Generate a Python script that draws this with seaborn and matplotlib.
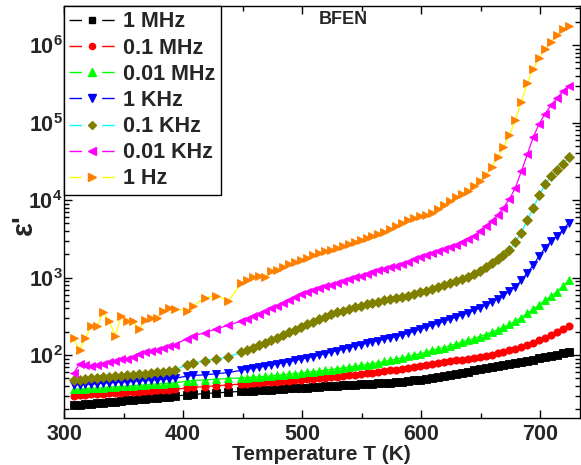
import math
import matplotlib
matplotlib.use("Agg")
import matplotlib.pyplot as plt
from matplotlib.lines import Line2D
from matplotlib.ticker import FuncFormatter, LogLocator, MultipleLocator, NullFormatter
import seaborn as sns
import pandas as pd

# ---------------- data ----------------
temperature = [308, 313, 318, 323, 328, 333, 338, 343, 348, 353, 358, 363, 368, 373, 378, 383, 388, 393,
               403, 408, 418, 428, 438,
               449, 454, 459, 464, 469, 474, 479, 484, 489, 494, 499, 504, 509, 514, 519, 524, 529, 534,
               539, 544, 549, 554, 559, 564, 569, 574, 579, 584, 589, 594, 599, 604, 609, 614, 619, 624,
               629, 634, 639, 644, 649, 654, 659, 664, 669, 674, 679, 684, 689, 694, 699, 704, 709, 714,
               719, 724]

eps_1MHz = [22.5, 22.9, 23.2, 23.6, 23.9, 24.3, 24.7, 25.1, 25.5, 25.9, 26.3, 26.7, 27.1, 27.6, 28.0, 28.5, 29.0, 29.5,
            30.5, 31.0, 31.8, 32.5, 33.2,
            34.0, 34.4, 34.8, 35.2, 35.5, 35.9, 36.2, 36.6, 37.0, 37.3, 37.7, 38.1, 38.5, 38.9, 39.3, 39.7, 40.1, 40.5,
            40.9, 41.3, 41.8, 42.2, 42.7, 43.2, 43.7, 44.2, 44.8, 45.5, 46.2, 47.0, 47.8, 49.0, 50.5, 52.0, 53.8, 55.5,
            57.3, 59.2, 61.2, 63.3, 65.5, 67.5, 69.5, 71.8, 74.0, 76.5, 79.0, 81.5, 84.0, 87.5, 90.5, 93.5, 97.0, 100.5,
            105.0, 110.0]

eps_01MHz = [30.0, 30.3, 30.6, 31.0, 31.3, 31.7, 32.0, 32.4, 32.7, 33.1, 33.4, 33.8, 34.2, 34.6, 35.0, 35.4, 35.8, 36.2,
             37.5, 38.2, 39.2, 40.2, 41.2,
             42.3, 42.8, 43.3, 43.8, 44.3, 44.8, 45.3, 45.9, 46.5, 47.1, 47.7, 48.4, 49.1, 49.9, 50.7, 51.5, 52.5, 53.5,
             54.5, 55.6, 56.8, 58.0, 59.3, 60.6, 62.0, 63.4, 64.9, 66.5, 68.2, 70.0, 72.0, 74.0, 76.2, 78.5, 80.8, 83.2,
             85.5, 87.5, 89.5, 91.8, 94.2, 97.0, 100.5, 105.0, 110.0, 116.0, 121.0, 127.0, 134.0, 145.0, 155.0, 167.0,
             182.0, 198.0, 217.0, 240.0]

eps_001MHz = [36.0, 36.4, 36.8, 37.2, 37.6, 38.0, 38.4, 38.9, 39.3, 39.8, 40.3, 40.8, 41.3, 41.8, 42.3, 42.8, 43.3, 43.9,
              46.0, 46.8, 47.8, 48.8, 49.8,
              50.7, 51.2, 51.7, 52.3, 53.0, 53.8, 54.7, 55.6, 56.6, 57.6, 58.7, 59.8, 61.0, 62.2, 63.5, 64.9, 66.4, 68.0,
              69.7, 71.5, 73.4, 75.4, 77.6, 80.0, 82.6, 85.4, 88.4, 92.5, 96.0, 99.5, 104.0, 109.0, 115.0, 120.0, 125.0,
              131.0, 139.0, 147.0, 155.0, 163.0, 173.0, 184.0, 197.0, 211.0, 228.0, 249.0, 274.0, 305.0, 345.0, 388.0,
              445.0, 510.0, 575.0, 660.0, 775.0, 925.0]

eps_1KHz = [41.0, 41.4, 41.8, 42.3, 42.8, 43.3, 43.8, 44.3, 44.8, 45.3, 45.8, 46.4, 47.0, 47.6, 48.2, 48.8, 49.4, 50.0,
            53.5, 54.5, 55.5, 57.5, 59.5,
            63.5, 65.5, 67.5, 69.5, 71.8, 74.2, 76.8, 79.5, 82.2, 85.2, 88.5, 92.0, 95.5, 99.5, 104.0, 109.0, 114.0,
            119.0, 124.0, 130.0, 136.0, 142.0, 148.0, 154.0, 160.0, 166.0, 173.0, 181.0, 190.0, 204.0, 215.0, 228.0,
            242.0, 256.0, 272.0, 290.0, 309.0, 328.0, 350.0, 376.0, 405.0, 440.0, 480.0, 530.0, 590.0, 670.0, 760.0,
            920.0, 1150.0, 1450.0, 1900.0, 2420.0, 2950.0, 3450.0, 4150.0, 5100.0]

eps_01KHz = [47.5, 48.3, 49.0, 49.8, 50.6, 51.4, 52.2, 53.0, 53.9, 54.8, 55.7, 56.7, 57.7, 58.8, 59.9, 61.1, 62.4, 63.8,
             75.0, 78.0, 85.0, 89.0, 95.0,
             108.0, 116.0, 124.0, 134.0, 145.0, 156.0, 168.0, 181.0, 196.0, 211.0, 228.0, 248.0, 268.0, 290.0, 312.0,
             335.0, 355.0, 375.0, 395.0, 415.0, 435.0, 452.0, 470.0, 488.0, 506.0, 524.0, 540.0, 555.0, 578.0, 612.0,
             645.0, 680.0, 720.0, 755.0, 795.0, 845.0, 900.0, 955.0, 1020.0, 1100.0, 1210.0, 1370.0, 1530.0, 1720.0,
             1950.0, 2280.0, 2870.0, 3800.0, 5500.0, 7900.0, 11500.0, 16000.0, 20500.0, 24500.0, 29500.0, 36000.0]

eps_001KHz = [58.0, 77.0, 74.0, 72.0, 74.0, 77.0, 81.0, 84.0, 88.0, 90.0, 94.0, 102.0, 108.0, 112.0, 116.0, 124.0, 130.0, 136.0,
              162.0, 175.0, 194.0, 218.0, 242.0,
              275.0, 295.0, 318.0, 343.0, 370.0, 400.0, 432.0, 468.0, 508.0, 560.0, 605.0, 650.0, 690.0, 730.0, 770.0,
              810.0, 860.0, 910.0, 960.0, 1010.0, 1060.0, 1110.0, 1170.0, 1240.0, 1300.0, 1370.0, 1430.0, 1500.0,
              1590.0, 1720.0, 1830.0, 1940.0, 2050.0, 2180.0, 2320.0, 2480.0, 2640.0, 2860.0, 3100.0, 3450.0, 4000.0,
              4650.0, 5400.0, 6450.0, 8000.0, 10300.0, 14500.0, 23500.0, 39000.0, 65000.0, 97000.0, 131000.0,
              168000.0, 208000.0, 255000.0, 300000.0]

eps_1Hz = [166.0, 117.0, 164.0, 238.0, 238.0, 362.0, 272.0, 178.0, 318.0, 277.0, 275.0, 214.0, 280.0, 298.0, 300.0, 372.0, 400.0, 393.0,
           373.0, 430.0, 545.0, 585.0, 502.0,
           840.0, 930.0, 1030.0, 1060.0, 1030.0, 1200.0, 1260.0, 1380.0, 1480.0, 1570.0, 1680.0, 1800.0, 1950.0,
           2050.0, 2170.0, 2280.0, 2400.0, 2540.0, 2700.0, 2850.0, 3050.0, 3250.0, 3450.0, 3680.0, 3900.0, 4200.0,
           4600.0, 5100.0, 5500.0, 5800.0, 6150.0, 6500.0, 6900.0, 7700.0, 8700.0, 9600.0, 10800.0, 11900.0, 13200.0,
           15300.0, 17800.0, 21200.0, 27000.0, 35500.0, 48000.0, 69000.0, 108000.0, 185000.0, 320000.0, 490000.0,
           690000.0, 890000.0, 1100000.0, 1350000.0, 1620000.0, 1760000.0]

series_labels = ["1 MHz", "0.1 MHz", "0.01 MHz", "1 KHz", "0.1 KHz", "0.01 KHz", "1 Hz"]
series_values = [eps_1MHz, eps_01MHz, eps_001MHz, eps_1KHz, eps_01KHz, eps_001KHz, eps_1Hz]

# ---------------- style ----------------
sns.set_theme(style="ticks")
plt.rcParams["font.family"] = ["Liberation Sans", "DejaVu Sans"]
plt.rcParams["font.weight"] = "bold"
plt.rcParams["mathtext.fontset"] = "custom"
plt.rcParams["mathtext.rm"] = "Liberation Sans:bold"
plt.rcParams["mathtext.bf"] = "Liberation Sans:bold"
plt.rcParams["mathtext.it"] = "Liberation Sans:bold"

marker_colors = ["#000000", "#FF0000", "#00FF00", "#0000FF", "#808000", "#FF00FF", "#FF8000"]
line_colors = ["#000000", "#FF0000", "#00FF00", "#0000FF", "#00FFFF", "#FF00FF", "#FFFF00"]
markers = ["s", "o", "^", "v", "D", "<", ">"]
msizes = [5.2, 5.2, 6.0, 6.0, 4.6, 6.0, 6.0]

fig = plt.figure(figsize=(5.81, 4.65), dpi=100)
ax = fig.add_axes([0.1102, 0.1011, 0.8876, 0.886])

handles = []
for lab, vals, mc, lc, mk, ms in zip(series_labels, series_values, marker_colors, line_colors, markers, msizes):
    df = pd.DataFrame({"T": temperature, "eps": vals})
    sns.lineplot(data=df, x="T", y="eps", ax=ax, color=lc, linewidth=0.9,
                 marker=mk, markersize=ms, markerfacecolor=mc, markeredgecolor=mc,
                 markeredgewidth=0.6, errorbar=None, legend=False)
    handles.append(Line2D([], [], color=lc, linewidth=1.0, linestyle=(0, (9.0, 14.5)),
                          marker=mk, markersize=ms * 0.85, markerfacecolor=mc,
                          markeredgecolor=mc, label=lab))

ax.set_yscale("log")
ax.set_xlim(300, 733)
ax.set_ylim(15.4, 3.2e6)

ax.xaxis.set_major_locator(MultipleLocator(100))
ax.xaxis.set_minor_locator(MultipleLocator(50))
ax.yaxis.set_major_locator(LogLocator(base=10, numticks=20))
ax.yaxis.set_minor_locator(LogLocator(base=10, subs=[2, 3, 4, 5, 6, 7, 8, 9], numticks=20))
ax.yaxis.set_minor_formatter(NullFormatter())
ax.yaxis.set_major_formatter(FuncFormatter(lambda v, p: r"$\mathbf{10^{%d}}$" % round(math.log10(v))))

ax.tick_params(which="both", direction="in", top=True, right=True, width=1.0, color="black")
ax.tick_params(which="major", length=6, labelsize=15.5)
ax.tick_params(which="minor", length=3.5)
ax.tick_params(axis="x", which="major", pad=4)
ax.tick_params(axis="y", which="major", pad=1)
for lbl in ax.get_xticklabels() + ax.get_yticklabels():
    lbl.set_fontweight("bold")

for sp in ax.spines.values():
    sp.set_linewidth(1.0)
    sp.set_color("black")

ax.set_xlabel("Temperature T (K)", fontsize=15, fontweight="bold", labelpad=0)
ax.set_ylabel("ε'", fontsize=21, fontweight="bold")
ax.yaxis.set_label_coords(-0.05, 0.47)

ax.text(0.541, 0.968, "BFEN", transform=ax.transAxes, ha="center", va="center",
        fontsize=13, fontweight="bold")

leg = ax.legend(handles=handles, loc="upper left", bbox_to_anchor=(0, 1), borderaxespad=0,
                fontsize=15.5, frameon=True, fancybox=False, framealpha=1, edgecolor="black",
                handlelength=2.1, handletextpad=0.4, labelspacing=0.24, borderpad=0.25)
leg.get_frame().set_linewidth(1.0)
for t in leg.get_texts():
    t.set_fontweight("bold")

fig.savefig("out.png", dpi=100)
